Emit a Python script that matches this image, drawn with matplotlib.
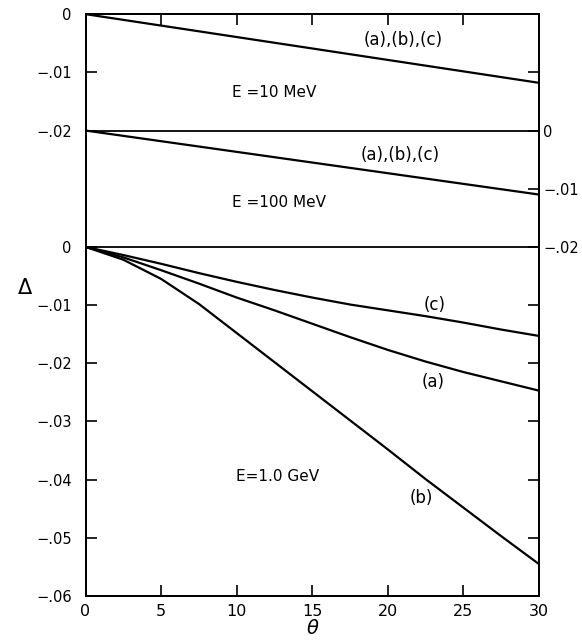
import matplotlib
matplotlib.use("Agg")
import matplotlib.pyplot as plt
import numpy as np

# ---- data ----
theta_line = [0, 30]
delta_10MeV = [0.0, -0.0118]
delta_100MeV = [0.0, -0.0110]

theta_1GeV = [0, 2.5, 5, 7.5, 10, 12.5, 15, 17.5, 20, 22.5, 25, 27.5, 30]
delta_1GeV_a = [0, -0.0018, -0.0040, -0.0063, -0.0087, -0.0109, -0.0132,
                -0.0155, -0.0177, -0.0197, -0.0215, -0.0231, -0.0247]
delta_1GeV_b = [0, -0.0022, -0.0055, -0.0098, -0.0148, -0.0198, -0.0248,
                -0.0298, -0.0348, -0.0399, -0.0448, -0.0497, -0.0545]
delta_1GeV_c = [0, -0.0014, -0.0029, -0.0045, -0.0060, -0.0074, -0.0087,
                -0.0099, -0.0109, -0.0119, -0.0130, -0.0142, -0.0153]

# panel zero offsets on the common axis
offset_10MeV = 0.04
offset_100MeV = 0.02
offset_1GeV = 0.0

x_ticks = [0, 5, 10, 15, 20, 25, 30]
left_ticks = [0.04, 0.03, 0.02, 0.0, -0.01, -0.02, -0.03, -0.04, -0.05, -0.06]
left_labels = ["0", "−.01", "−.02", "0", "−.01", "−.02", "−.03", "−.04", "−.05", "−.06"]
right_ticks = [0.03, 0.02, 0.01, 0.0, -0.01, -0.02, -0.03, -0.04, -0.05]
right_labels = ["", "0", "−.01", "−.02", "", "", "", "", ""]

fig = plt.figure(figsize=(5.82, 6.43), dpi=100)
ax = fig.add_axes([0.147, 0.073, 0.779, 0.905])
lw = 1.6
ax.plot(theta_line, np.array(delta_10MeV) + offset_10MeV, color="black", lw=lw)
ax.plot(theta_line, np.array(delta_100MeV) + offset_100MeV, color="black", lw=lw)
ax.plot(theta_1GeV, np.array(delta_1GeV_a) + offset_1GeV, color="black", lw=lw)
ax.plot(theta_1GeV, np.array(delta_1GeV_b) + offset_1GeV, color="black", lw=lw)
ax.plot(theta_1GeV, np.array(delta_1GeV_c) + offset_1GeV, color="black", lw=lw)

# panel separators
ax.axhline(offset_100MeV, color="black", lw=1.3)
ax.axhline(offset_1GeV, color="black", lw=1.3)

ax.set_xlim(0, 30)
ax.set_ylim(-0.06, 0.04)
ax.set_xticks(x_ticks)
ax.set_xticklabels([str(t) for t in x_ticks], fontsize=11.5)
ax.set_yticks(left_ticks)
ax.set_yticklabels(left_labels, fontsize=10.5)
ax.tick_params(axis="x", direction="in", length=8, width=1.2, top=True, pad=6)
ax.tick_params(axis="y", direction="in", length=8, width=1.2, pad=10)

ax2 = ax.twinx()
ax2.set_ylim(-0.06, 0.04)
ax2.set_yticks(right_ticks)
ax2.set_yticklabels(right_labels, fontsize=10.5)
ax2.tick_params(axis="y", direction="in", length=8, width=1.2, pad=3)

for a in (ax, ax2):
    for s in a.spines.values():
        s.set_linewidth(1.4)

# annotations
ax.text(21.0, 0.0356, "(a),(b),(c)", fontsize=12, ha="center", va="center")
ax.text(9.7, 0.0265, "E =10 MeV", fontsize=11, ha="left", va="center")
ax.text(20.8, 0.0158, "(a),(b),(c)", fontsize=12, ha="center", va="center")
ax.text(9.7, 0.0076, "E =100 MeV", fontsize=11, ha="left", va="center")
ax.text(23.1, -0.0100, "(c)", fontsize=12, ha="center", va="center")
ax.text(23.0, -0.0233, "(a)", fontsize=12, ha="center", va="center")
ax.text(22.2, -0.0432, "(b)", fontsize=12, ha="center", va="center")
ax.text(9.95, -0.0395, "E=1.0 GeV", fontsize=11, ha="left", va="center")

ax.set_xlabel("θ", fontsize=14, style="italic", labelpad=0)
fig.text(25 / 582, 1 - 288 / 643, "Δ", fontsize=15, ha="center", va="center")

fig.savefig("out.png", dpi=100)
